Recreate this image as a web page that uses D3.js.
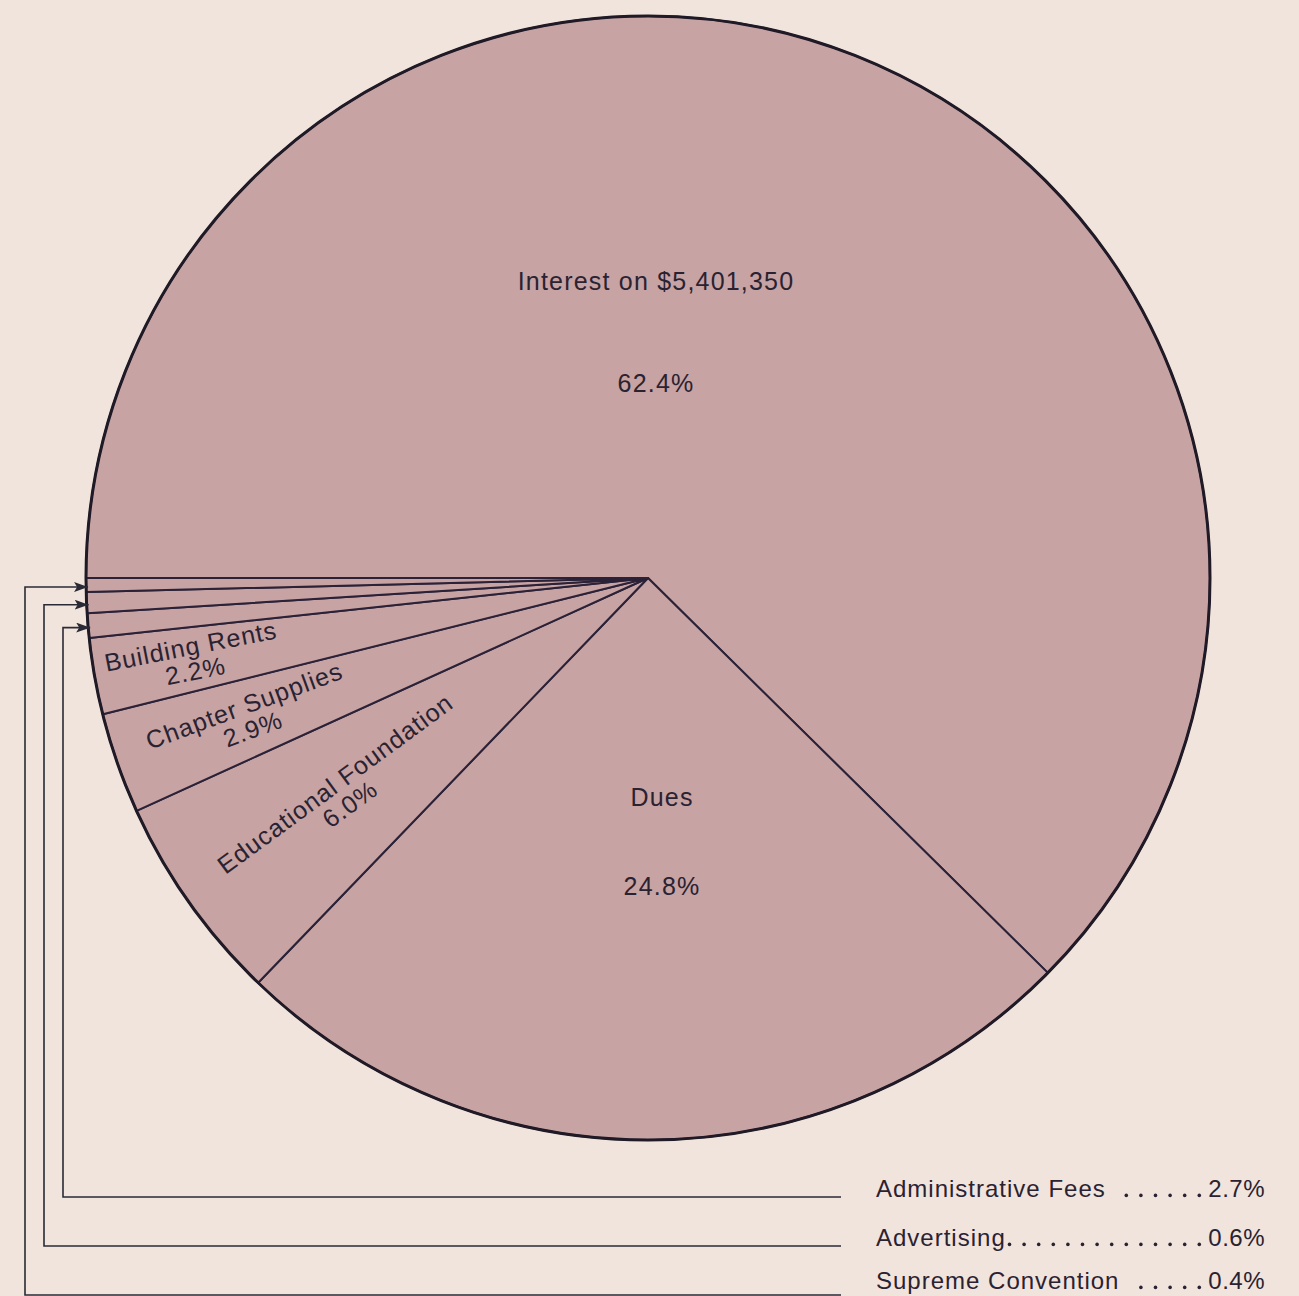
<!DOCTYPE html>
<html>
<head>
<meta charset="utf-8">
<script src="https://cdn.jsdelivr.net/npm/d3@7"></script>
<style>
  html, body { margin: 0; padding: 0; background: #f1e4dc; }
  svg { display: block; }
  text { font-family: "Liberation Sans", Arial, sans-serif; fill: #2a2231; }
</style>
</head>
<body>
<div class="container"></div>
<script>

// slices, clockwise from 9 o'clock
const categories = ["Interest on $5,401,350", "Dues", "Educational Foundation", "Chapter Supplies",
  "Building Rents", "Administrative Fees", "Advertising", "Supreme Convention"]
// drawn share of each slice (admin fees is drawn as 0.7, the printed label says 2.7)
const shares = [62.4, 24.8, 6.0, 2.9, 2.2, 0.7, 0.6, 0.4]
const printed = ["62.4%", "24.8%", "6.0%", "2.9%", "2.2%", "2.7%", "0.6%", "0.4%"]

// which slices get a leader line to the legend below
const legendNames = ["Administrative Fees", "Advertising", "Supreme Convention"]

const w = 1299
const h = 1296
const cx = 648
const cy = 578
const r = 562

const data = categories.map((c, i) => ({ name: c, value: shares[i], label: printed[i] }))

const svg = d3.select(".container")
  .append("svg")
  .attr("width", w)
  .attr("height", h)

const defs = svg.append("defs")
defs.append("marker")
  .attr("id", "arrow")
  .attr("viewBox", "0 0 14 10")
  .attr("refX", 14)
  .attr("refY", 5)
  .attr("markerWidth", 14)
  .attr("markerHeight", 10)
  .attr("markerUnits", "userSpaceOnUse")
  .attr("orient", "auto")
  .append("path")
  .attr("d", "M0,0 L14,5 L0,10 L3,5 Z")
  .attr("fill", "#2a2a36")

const pie = d3.pie()
  .sort(null)
  .value(d => d.value)
  .startAngle(-Math.PI / 2)
  .endAngle(Math.PI * 1.5)

const arcs = pie(data)
const arc = d3.arc().innerRadius(0).outerRadius(r)

const g = svg.append("g").attr("transform", `translate(${cx},${cy})`)

g.selectAll("path.slice")
  .data(arcs)
  .enter()
  .append("path")
  .attr("class", "slice")
  .attr("d", arc)
  .attr("fill", "#c7a3a4")
  .attr("stroke", "#2b2238")
  .attr("stroke-width", 2)
  .attr("stroke-linejoin", "round")

g.append("circle")
  .attr("r", r)
  .attr("fill", "none")
  .attr("stroke", "#1f1a26")
  .attr("stroke-width", 3)

// big labels, set by hand inside the two big slices
const bigPos = { "Interest on $5,401,350": [8, -288, -186], "Dues": [14, 228, 317] }
arcs.slice(0, 2).forEach(d => {
  const p = bigPos[d.data.name]
  g.append("text")
    .attr("x", p[0])
    .attr("y", p[1])
    .attr("text-anchor", "middle")
    .style("font-size", "25px")
    .style("letter-spacing", "1.2px")
    .text(d.data.name)
  g.append("text")
    .attr("x", p[0])
    .attr("y", p[2])
    .attr("text-anchor", "middle")
    .style("font-size", "25px")
    .style("letter-spacing", "1.2px")
    .text(d.data.label)
})

// rotated labels along the radius of the thin slices
const labelRadius = { "Educational Foundation": 374, "Chapter Supplies": 423, "Building Rents": 462 }
arcs.filter(d => labelRadius[d.data.name]).forEach(d => {
  const a = (d.startAngle + d.endAngle) / 2
  const rr = labelRadius[d.data.name]
  const x = rr * Math.sin(a)
  const y = -rr * Math.cos(a)
  const rot = a * 180 / Math.PI - 271
  const t = g.append("g").attr("transform", `translate(${x},${y}) rotate(${rot})`)
  t.append("text")
    .attr("text-anchor", "middle")
    .attr("y", -4)
    .style("font-size", "25px")
    .style("letter-spacing", "1px")
    .text(d.data.name)
  t.append("text")
    .attr("text-anchor", "middle")
    .attr("y", 21)
    .style("font-size", "25px")
    .style("letter-spacing", "1px")
    .text(d.data.label)
})

// leader lines and legend
const legendX = [63, 44, 25]
const legendY = [1197, 1246, 1289]
const lineY = [1197, 1246, 1295]
const lineEnd = 841
const nameX = 876
const pctX = 1265
const gapAfter = [12, 2, 12]

legendNames.forEach((name, i) => {
  const d = arcs.find(s => s.data.name === name)
  const a = (d.startAngle + d.endAngle) / 2
  const yy = -r * Math.cos(a) + 2
  const xx = -Math.sqrt(r * r - yy * yy)
  const tipX = cx + xx + 2
  const tipY = cy + yy

  svg.append("path")
    .attr("d", `M${lineEnd},${lineY[i]} H${legendX[i]} V${tipY} H${tipX}`)
    .attr("fill", "none")
    .attr("stroke", "#2a2a36")
    .attr("stroke-width", 1.6)
    .attr("marker-end", "url(#arrow)")

  const nameText = svg.append("text")
    .attr("x", nameX)
    .attr("y", legendY[i])
    .style("font-size", "24px")
    .style("letter-spacing", "1px")
    .text(name)
  const pctText = svg.append("text")
    .attr("x", pctX)
    .attr("y", legendY[i])
    .attr("text-anchor", "end")
    .style("font-size", "24px")
    .style("letter-spacing", "0.5px")
    .text(d.data.label)

  // dot leaders between the name and the percentage
  const from = nameX + nameText.node().getComputedTextLength() + gapAfter[i]
  const to = pctX - pctText.node().getComputedTextLength() - 9
  const gap = 14.6
  const n = Math.floor((to - from) / gap) + 1
  const dots = d3.range(n).map(k => to - k * gap)
  svg.selectAll(null)
    .data(dots)
    .enter()
    .append("circle")
    .attr("cx", x => x)
    .attr("cy", legendY[i] - 1.6)
    .attr("r", 1.8)
    .attr("fill", "#2a2231")
})

</script>
</body>
</html>
